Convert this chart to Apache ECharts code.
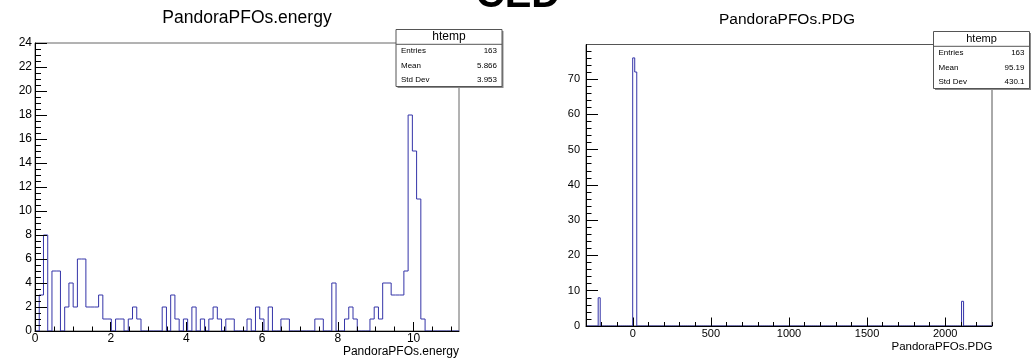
<!DOCTYPE html>
<html>
<head>
<meta charset="utf-8">
<script src="https://cdn.jsdelivr.net/npm/echarts@6/dist/echarts.min.js"></script>
<style>
html,body{margin:0;padding:0;background:#fff}
#main{width:1032px;height:358px}
</style>
</head>
<body>
<div id="main"></div>
<script>
// --- PandoraPFOs.energy : 100 bins on [0, 11.2]
const energyMin = 0
const energyMax = 11.2
const energyCounts = [
  0,3,8,0,5,5,0,2,4,2,
  6,6,2,2,2,3,1,1,0,1,
  1,0,1,2,1,0,0,0,0,0,
  2,0,3,1,0,1,0,2,0,1,
  0,1,2,1,0,1,1,0,0,0,
  1,0,2,1,0,2,0,0,1,1,
  0,0,0,0,0,0,1,1,0,0,
  4,0,0,1,2,1,0,0,0,1,
  2,1,4,4,3,3,3,5,18,15,
  11,1,0,0,0,0,0,0,0,0
]
const energyXTicks = [0, 2, 4, 6, 8, 10]
const energyYTicks = [0, 2, 4, 6, 8, 10, 12, 14, 16, 18, 20, 22, 24]
const energyYMax = 24

// --- PandoraPFOs.PDG : 200 bins on [-300, 2300], only filled bins listed
const pdgMin = -300
const pdgMax = 2300
const pdgNBins = 200
const pdgBinLow = [-222, -1, 12, 2105]
const pdgCounts = [8, 76, 72, 7]
const pdgXTicks = [0, 500, 1000, 1500, 2000]
const pdgYTicks = [0, 10, 20, 30, 40, 50, 60, 70]
const pdgYMax = 79.8

// stats boxes
const statNames = ['Entries', 'Mean', 'Std Dev']
const energyStats = ['163', '5.866', '3.953']
const pdgStats = ['163', '95.19', '430.1']

const FONT = '"Liberation Sans", Arial, Helvetica, sans-serif'
const LINE = '#3434a8'

function steps(from, to, by) {
  const out = []
  for (let v = from; v <= to + 1e-9; v += by) out.push(+v.toFixed(4))
  return out
}

// histogram outline points, drawn with step:'end'
function histPoints(lo, hi, counts) {
  const w = (hi - lo) / counts.length
  const pts = [[lo, 0]]
  counts.forEach((c, i) => pts.push([lo + i * w, c]))
  pts.push([hi, 0])
  return pts
}

const pdgFull = new Array(pdgNBins).fill(0)
pdgBinLow.forEach((lo, i) => {
  const idx = Math.round((lo - pdgMin) / ((pdgMax - pdgMin) / pdgNBins))
  pdgFull[idx] = pdgCounts[i]
})

function majorAxis(pos, grid, min, max, ticks, tickLen, fontSize, margin) {
  return {
    type: 'value', gridIndex: grid, min: min, max: max, position: pos, offset: 0, z: 5,
    axisLine: { show: true, onZero: false, lineStyle: { color: '#000', width: 1 } },
    splitLine: { show: false },
    axisTick: { show: true, inside: true, length: tickLen, customValues: ticks, lineStyle: { color: '#000' } },
    axisLabel: { customValues: ticks, color: '#000', fontSize: fontSize, fontFamily: FONT, margin: margin,
                 formatter: v => String(v) }
  }
}
function minorAxis(pos, grid, min, max, ticks, tickLen) {
  return {
    type: 'value', gridIndex: grid, min: min, max: max, position: pos, offset: 0, z: 5,
    axisLine: { show: false, onZero: false }, splitLine: { show: false },
    axisLabel: { show: false },
    axisTick: { show: true, inside: true, length: tickLen, customValues: ticks, lineStyle: { color: '#000' } }
  }
}

function statsBox(x, y, w, head, vals, headSize) {
  const rowY = [21.5, 35.8, 50.3]
  const h = 57
  const kids = [
    { type: 'rect', shape: { x: 1.5, y: 1.5, width: w, height: h }, style: { fill: '#8a8a8a' } },
    { type: 'rect', shape: { x: 0, y: 0, width: w, height: h }, style: { fill: '#fff', stroke: '#555', lineWidth: 1 } },
    { type: 'line', shape: { x1: 0, y1: 14.8, x2: w, y2: 14.8 }, style: { stroke: '#555', lineWidth: 1 } },
    { type: 'text', x: w / 2, y: 7.2, style: { text: head, font: headSize + 'px ' + FONT, fill: '#000', align: 'center', verticalAlign: 'middle' } }
  ]
  statNames.forEach((n, i) => {
    kids.push({ type: 'text', x: 5, y: rowY[i], style: { text: n, font: '8px ' + FONT, fill: '#000', align: 'left', verticalAlign: 'middle' } })
    kids.push({ type: 'text', x: w - 5, y: rowY[i], style: { text: vals[i], font: '8px ' + FONT, fill: '#000', align: 'right', verticalAlign: 'middle' } })
  })
  return { type: 'group', x: x, y: y, z: 100, children: kids }
}

const chart = echarts.init(document.getElementById('main'), null, { renderer: 'canvas' })

chart.setOption({
  animation: false,
  backgroundColor: '#fff',
  grid: [
    { left: 35, top: 43, width: 424, height: 288, show: true, borderColor: '#666', borderWidth: 1, backgroundColor: 'transparent' },
    { left: 586, top: 44.5, width: 406, height: 281.5, show: true, borderColor: '#555', borderWidth: 1, backgroundColor: 'transparent' }
  ],
  xAxis: [
    majorAxis('bottom', 0, energyMin, energyMax, energyXTicks, 9, 12, 2),
    minorAxis('bottom', 0, energyMin, energyMax, steps(0, 11, 0.5), 4.5),
    majorAxis('bottom', 1, pdgMin, pdgMax, pdgXTicks, 8.5, 11, 2),
    minorAxis('bottom', 1, pdgMin, pdgMax, steps(-300, 2300, 100), 4)
  ],
  yAxis: [
    majorAxis('left', 0, 0, energyYMax, energyYTicks, 12, 12, 3),
    minorAxis('left', 0, 0, energyYMax, steps(0, 24, 0.5), 6),
    majorAxis('left', 1, 0, pdgYMax, pdgYTicks, 12, 11, 6),
    minorAxis('left', 1, 0, pdgYMax, steps(0, 78, 2), 5.5)
  ],
  series: [
    {
      type: 'line', xAxisIndex: 0, yAxisIndex: 0, step: 'end', z: 1,
      data: histPoints(energyMin, energyMax, energyCounts),
      showSymbol: false, silent: true,
      lineStyle: { color: LINE, width: 1 }
    },
    {
      type: 'line', xAxisIndex: 2, yAxisIndex: 2, step: 'end', z: 1,
      data: histPoints(pdgMin, pdgMax, pdgFull),
      showSymbol: false, silent: true,
      lineStyle: { color: LINE, width: 1 }
    }
  ],
  graphic: [
    { type: 'text', x: 518, y: -4, style: { text: 'CED', font: 'bold 40px ' + FONT, fill: '#000', align: 'center', verticalAlign: 'middle' } },
    { type: 'text', x: 247, y: 18.5, style: { text: 'PandoraPFOs.energy', font: '17.5px ' + FONT, fill: '#000', align: 'center', verticalAlign: 'middle' } },
    { type: 'text', x: 787, y: 20, style: { text: 'PandoraPFOs.PDG', font: '15.5px ' + FONT, fill: '#000', align: 'center', verticalAlign: 'middle' } },
    { type: 'text', x: 459, y: 351.5, style: { text: 'PandoraPFOs.energy', font: '12px ' + FONT, fill: '#000', align: 'right', verticalAlign: 'middle' } },
    { type: 'text', x: 992.5, y: 346.7, style: { text: 'PandoraPFOs.PDG', font: '11.5px ' + FONT, fill: '#000', align: 'right', verticalAlign: 'middle' } },
    statsBox(396, 29.5, 106, 'htemp', energyStats, 12),
    statsBox(933.5, 31.5, 96, 'htemp', pdgStats, 11)
  ]
})
</script>
</body>
</html>
